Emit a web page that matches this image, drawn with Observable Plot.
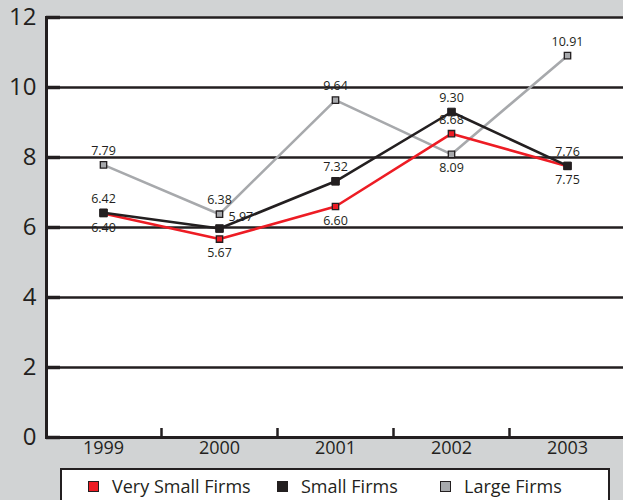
<!DOCTYPE html>
<html>
<head>
<meta charset="utf-8">
<script src="https://cdn.jsdelivr.net/npm/d3@7"></script>
<script src="https://cdn.jsdelivr.net/npm/@observablehq/plot@0.6"></script>
<style>
  html, body { margin: 0; padding: 0; background: #d1d3d4; overflow: hidden; }
  body { width: 623px; height: 500px; position: relative; font-family: "Open Sans", sans-serif; }
  #chart svg { display: block; }
  #legend {
    position: absolute; left: 60px; top: 468px; width: 550px; height: 40px;
    background: #fff; border: 2.5px solid #231f20; box-sizing: border-box;
    font-size: 18px; color: #231f20;
  }
  .item { position: absolute; top: 4px; display: flex; align-items: center; white-space: nowrap; }
  .sw { width: 9px; height: 9px; border: 1.5px solid #231f20; margin-right: 13px; }
</style>
</head>
<body>
<div id="chart"></div>
<div id="legend"></div>
<script>
const years = [1999, 2000, 2001, 2002, 2003];
const seriesNames = ["Very Small Firms", "Small Firms", "Large Firms"];
const verySmall = [6.40, 5.67, 6.60, 8.68, 7.75];
const small = [6.42, 5.97, 7.32, 9.30, 7.76];
const large = [7.79, 6.38, 9.64, 8.09, 10.91];
const colors = ["#ed1c24", "#231f20", "#a7a9ac"];
const yTicks = [0, 2, 4, 6, 8, 10, 12];
// label placement: "a" above, "b" below, "r" above-right
const verySmallPos = ["b", "b", "b", "a", "b"];
const smallPos = ["a", "r", "a", "a", "a"];
const largePos = ["a", "a", "a", "b", "a"];

const build = (vals, name, pos) => years.map((yr, i) => ({year: yr, value: vals[i], series: name, pos: pos[i]}));
const dVS = build(verySmall, seriesNames[0], verySmallPos);
const dS = build(small, seriesNames[1], smallPos);
const dL = build(large, seriesNames[2], largePos);

const labelFont = {fontSize: 12.5, fill: "#231f20", fontFamily: "Open Sans"};
const labelMarks = (data) => [
  Plot.text(data.filter(d => d.pos === "a"), {x: "year", y: "value", text: d => d.value.toFixed(2), dy: -14, ...labelFont}),
  Plot.text(data.filter(d => d.pos === "b"), {x: "year", y: "value", text: d => d.value.toFixed(2), dy: 14, ...labelFont}),
  Plot.text(data.filter(d => d.pos === "r"), {x: "year", y: "value", text: d => d.value.toFixed(2), dx: 9, dy: -12, textAnchor: "start", ...labelFont})
];

const chart = Plot.plot({
  width: 623,
  height: 462,
  marginLeft: 46,
  marginRight: 0,
  marginTop: 17,
  marginBottom: 25,
  style: {background: "transparent", fontFamily: "Open Sans", color: "#231f20"},
  x: {type: "linear", domain: [1998.5, 2003.5], range: [45, 625], label: null},
  y: {domain: [0, 12], range: [437, 17], label: null},
  marks: [
    Plot.frame({fill: "white", stroke: null}),
    Plot.ruleY(yTicks, {stroke: "#231f20", strokeWidth: 2.6}),
    Plot.frame({anchor: "left", stroke: "#231f20", strokeWidth: 3}),
    Plot.ruleY([0], {stroke: "#231f20", strokeWidth: 3.2}),
    Plot.axisY({ticks: yTicks, tickSize: -14, tickFormat: () => "", label: null, stroke: "#231f20", strokeWidth: 3.5}),
    Plot.axisY({ticks: yTicks, tickSize: 0, tickPadding: 10, fontSize: 24, label: null, tickFormat: d => String(d), fill: "#231f20"}),
    Plot.axisX({ticks: [1999.5, 2000.5, 2001.5, 2002.5], tickSize: -9, tickFormat: () => "", label: null, stroke: "#231f20", strokeWidth: 2.5}),
    Plot.axisX({ticks: years, tickSize: 0, tickPadding: 4, fontSize: 18, label: null, tickFormat: d => String(d), fill: "#231f20"}),
    Plot.line(dL, {x: "year", y: "value", stroke: colors[2], strokeWidth: 2.6}),
    Plot.line(dVS, {x: "year", y: "value", stroke: colors[0], strokeWidth: 2.6}),
    Plot.line(dS, {x: "year", y: "value", stroke: colors[1], strokeWidth: 2.6}),
    Plot.dot(dL, {x: "year", y: "value", symbol: "square", r: 3.6, fill: colors[2], stroke: "#231f20", strokeWidth: 1.3}),
    Plot.dot(dVS, {x: "year", y: "value", symbol: "square", r: 3.6, fill: colors[0], stroke: "#231f20", strokeWidth: 1.3}),
    Plot.dot(dS, {x: "year", y: "value", symbol: "square", r: 4.3, fill: colors[1], stroke: "#231f20", strokeWidth: 1}),
    ...labelMarks(dL),
    ...labelMarks(dVS),
    ...labelMarks(dS)
  ]
});
document.getElementById("chart").appendChild(chart);

const legend = document.getElementById("legend");
const itemLefts = [26, 215, 378];
seriesNames.forEach((name, i) => {
  const it = document.createElement("div");
  it.className = "item";
  it.style.left = itemLefts[i] + "px";
  const sw = document.createElement("span");
  sw.className = "sw";
  sw.style.background = colors[i];
  const tx = document.createElement("span");
  tx.textContent = name;
  it.appendChild(sw);
  it.appendChild(tx);
  legend.appendChild(it);
});
</script>
</body>
</html>
